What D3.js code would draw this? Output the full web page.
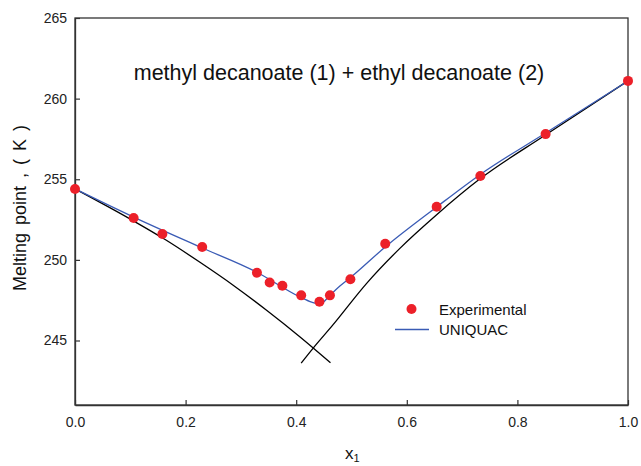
<!DOCTYPE html>
<html><head><meta charset="utf-8">
<script src="https://cdn.jsdelivr.net/npm/d3@7"></script>
<style>body{margin:0;background:#fff}svg{display:block}text{font-family:"Liberation Sans",Arial,sans-serif}</style>
</head><body><svg id="c" width="641" height="466"></svg>
<script>
// Experimental data
const expX = [0.000,0.106,0.158,0.230,0.329,0.352,0.375,0.409,0.442,0.461,0.498,0.561,0.654,0.733,0.851,1.000];
const expT = [254.4,252.6,251.6,250.8,249.2,248.6,248.4,247.8,247.4,247.8,248.8,251.0,253.3,255.2,257.8,261.1];
// UNIQUAC model curve
const uniX = [0.000,0.106,0.226,0.328,0.407,0.428,0.443,0.461,0.479,0.498,0.561,0.654,0.733,0.851,1.000];
const uniT = [254.4,252.65,250.8,249.25,247.7,247.38,247.27,247.8,248.38,248.9,250.8,253.28,255.3,257.87,261.1];
// Ideal liquidus branches (black)
const leftX = [0.000,0.105,0.163,0.226,0.286,0.347,0.407,0.462];
const leftT = [254.4,252.43,251.26,249.85,248.43,246.86,245.22,243.62];
const rightX = [0.409,0.430,0.466,0.527,0.587,0.654,0.733,0.850,1.000];
const rightT = [243.6,244.5,245.95,248.53,250.7,252.8,255.04,257.73,261.1];
const xTicks = [0,0.2,0.4,0.6,0.8,1.0];
const yTicks = [245,250,255,260,265];

const svg = d3.select("#c");
const L=75,R=628,T=18,B=405;
const x = d3.scaleLinear().domain([0,1]).range([L,R]);
const y = d3.scaleLinear().domain([241,265]).range([B,T]);

// frame
svg.append("rect").attr("x",L).attr("y",T).attr("width",R-L).attr("height",B-T)
  .attr("fill","none").attr("stroke","#333").attr("stroke-width",1.3);

const xa = svg.append("g").attr("transform",`translate(0,${B})`)
  .call(d3.axisBottom(x).tickValues(xTicks).tickFormat(d3.format(".1f")).tickSizeInner(-5).tickSizeOuter(0).tickPadding(12));
const ya = svg.append("g").attr("transform",`translate(${L},0)`)
  .call(d3.axisLeft(y).tickValues(yTicks).tickFormat(d3.format("d")).tickSizeInner(-5).tickSizeOuter(0).tickPadding(8));
[xa,ya].forEach(a=>{a.select(".domain").attr("stroke","#333").attr("stroke-width",1.3);
  a.selectAll(".tick line").attr("stroke","#333").attr("stroke-width",1.2);
  a.selectAll(".tick text").attr("font-size",14).attr("fill","#222").attr("font-family","Liberation Sans, Arial, sans-serif");});

const line = d3.line().curve(d3.curveMonotoneX);
const mk = (xs,ts)=>xs.map((v,i)=>[x(v),y(ts[i])]);
svg.append("path").attr("d",line(mk(leftX,leftT))).attr("fill","none").attr("stroke","#000").attr("stroke-width",1.3);
svg.append("path").attr("d",line(mk(rightX,rightT))).attr("fill","none").attr("stroke","#000").attr("stroke-width",1.3);
svg.append("path").attr("d",line(mk(uniX,uniT))).attr("fill","none").attr("stroke","#3a5bb5").attr("stroke-width",1.3);

svg.append("g").selectAll("circle").data(expX).join("circle")
  .attr("cx",d=>x(d)).attr("cy",(d,i)=>y(expT[i])).attr("r",5).attr("fill","#ec2029");

// title
svg.append("text").attr("x",339).attr("y",80).attr("text-anchor","middle").attr("font-size",21.5).attr("fill","#111")
  .text("methyl decanoate (1) + ethyl decanoate (2)");

// legend
svg.append("circle").attr("cx",411.5).attr("cy",309).attr("r",5).attr("fill","#ec2029");
svg.append("text").attr("x",439).attr("y",315).attr("font-size",15).attr("fill","#111").text("Experimental");
svg.append("line").attr("x1",395).attr("x2",429).attr("y1",329.5).attr("y2",329.5).attr("stroke","#3a5bb5").attr("stroke-width",1.3);
svg.append("text").attr("x",439).attr("y",335).attr("font-size",15).attr("fill","#111").text("UNIQUAC");

// axis titles
svg.append("text").attr("transform","translate(26,208) rotate(-90)").attr("text-anchor","middle").attr("font-size",18)
  .attr("word-spacing",3).attr("fill","#111")
  .text("Melting point , ( K )");
const xl = svg.append("text").attr("x",345).attr("y",459).attr("font-size",17).attr("fill","#111");
xl.append("tspan").text("x");
xl.append("tspan").attr("font-size",11).attr("dy",3).text("1");
</script></body></html>
